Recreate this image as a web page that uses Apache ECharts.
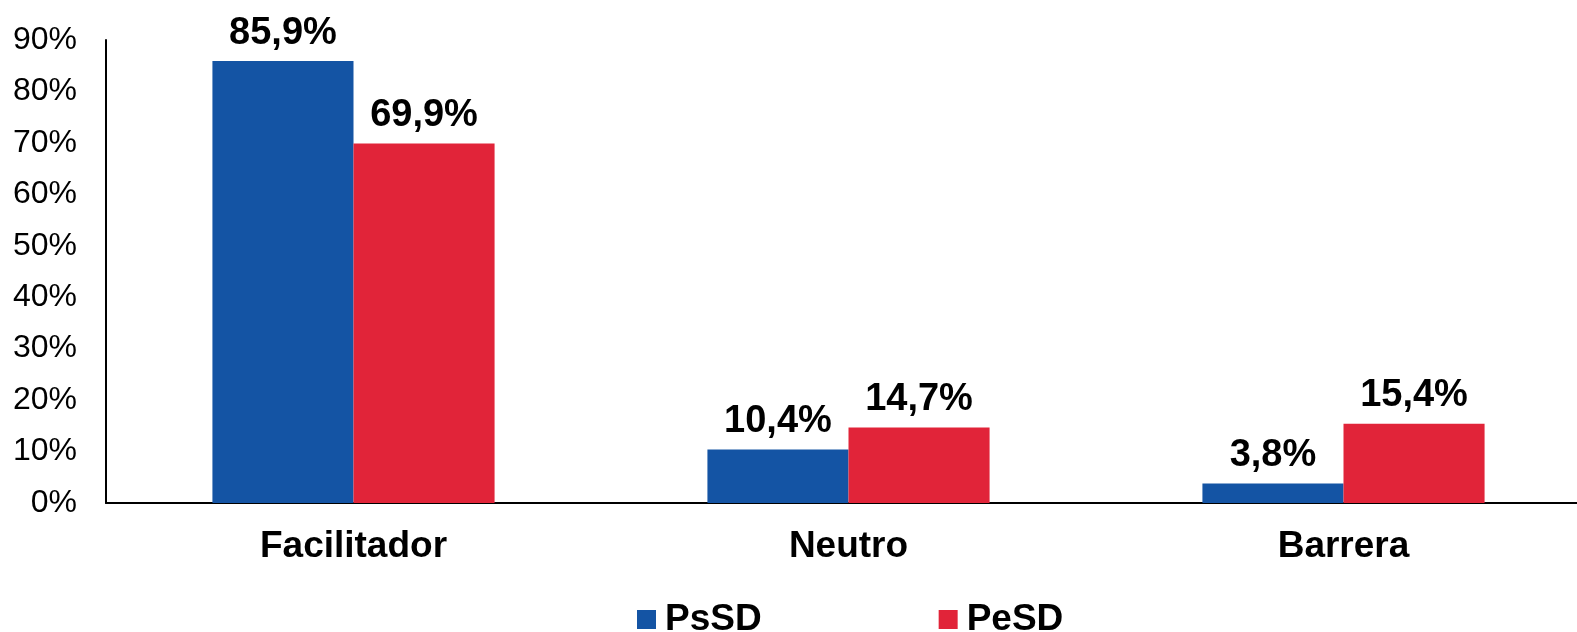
<!DOCTYPE html>
<html>
<head>
<meta charset="utf-8">
<script src="https://cdn.jsdelivr.net/npm/echarts@6/dist/echarts.min.js"></script>
<style>
    html, body { margin: 0; padding: 0; background: #ffffff; overflow: hidden; }
    #main { width: 1600px; height: 632px; }
</style>
</head>
<body>
<div id="main"></div>
<script>
let categories = ['Facilitador', 'Neutro', 'Barrera'];
let psSD = [85.9, 10.4, 3.8];
let peSD = [69.9, 14.7, 15.4];
let yTicks = {min: 0, max: 90, interval: 10};

let font = "'Liberation Sans', Arial, sans-serif";

let valueLabel = {
    show: true,
    position: 'top',
    distance: 9,
    fontFamily: font,
    fontSize: 38,
    fontWeight: 'bold',
    color: '#000000',
    formatter: function (p) {
        return p.value.toFixed(1).replace('.', ',') + '%';
    }
};

// the plot runs a bit past the right edge of the picture, so the div is wider than the window
let option = {
    animation: false,
    backgroundColor: '#ffffff',
    grid: {
        left: 106,
        top: 40,
        width: 1485,
        height: 463
    },
    legend: {
        bottom: -11,
        left: 632,
        itemWidth: 19,
        itemHeight: 19,
        itemGap: 177,
        icon: 'rect',
        textStyle: {
            fontFamily: font,
            fontSize: 37,
            fontWeight: 'bold',
            color: '#000000',
            padding: [0, 0, 0, 4]
        },
        data: ['PsSD', 'PeSD']
    },
    xAxis: {
        type: 'category',
        data: categories,
        axisLine: {lineStyle: {color: '#000000', width: 2}},
        axisTick: {show: false},
        axisLabel: {
            margin: 25,
            fontFamily: font,
            fontSize: 37,
            fontWeight: 'bold',
            color: '#000000'
        }
    },
    yAxis: {
        type: 'value',
        min: yTicks.min,
        max: yTicks.max,
        interval: yTicks.interval,
        axisLine: {show: true, lineStyle: {color: '#000000', width: 2}},
        axisTick: {show: false},
        splitLine: {show: false},
        axisLabel: {
            margin: 29,
            formatter: '{value}%',
            fontFamily: font,
            fontSize: 32,
            color: '#000000'
        }
    },
    series: [{
        name: 'PsSD',
        type: 'bar',
        data: psSD,
        barGap: '0%',
        barCategoryGap: '43%',
        itemStyle: {color: '#1454A4'},
        label: valueLabel
    }, {
        name: 'PeSD',
        type: 'bar',
        data: peSD,
        barGap: '0%',
        barCategoryGap: '43%',
        itemStyle: {color: '#E12439'},
        label: valueLabel
    }]
};

let chart = echarts.init(document.getElementById('main'));
chart.setOption(option);
</script>
</body>
</html>
